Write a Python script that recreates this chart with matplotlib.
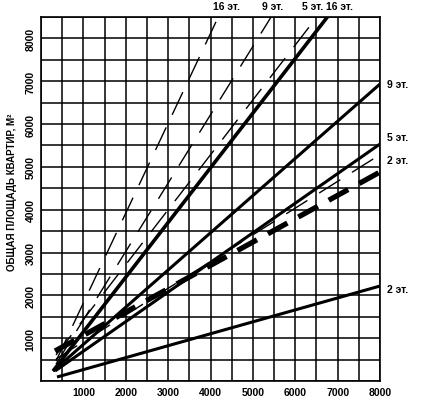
import matplotlib
matplotlib.use("Agg")
import matplotlib.pyplot as plt
from matplotlib.ticker import MultipleLocator

plt.rcParams['font.family'] = ['Liberation Sans', 'DejaVu Sans']
plt.rcParams['lines.scale_dashes'] = False

# Линии графика: (x начала, x конца), (y начала, y конца)
# тонкие штриховые
dash16_x = [354, 4183]
dash16_y = [467, 8500]
dash9_x = [354, 5430]
dash9_y = [397, 8500]
dash5_x = [354, 6510]
dash5_y = [607, 8500]
dash2_x = [354, 7950]
dash2_y = [514, 5254]
# сплошные
solid16_x = [284, 6758]
solid16_y = [233, 8500]
solid9_x = [284, 8000]
solid9_y = [233, 6935]
solid5_x = [331, 8000]
solid5_y = [233, 5534]
solid2_x = [378, 8000]
solid2_y = [93, 2218]
# жирная штриховая
bold_x = [331, 8000]
bold_y = [700, 4880]

x_ticks = [1000, 2000, 3000, 4000, 5000, 6000, 7000, 8000]
y_ticks = [1000, 2000, 3000, 4000, 5000, 6000, 7000, 8000]

top_labels = ['16 эт.', '9 эт.', '5 эт.', '16 эт.']
top_label_x = [4372, 5459, 6404, 7042]
right_labels = ['9 эт.', '5 эт.', '2 эт.', '2 эт.']
right_label_y = [6935, 5700, 5160, 2150]

fig = plt.figure(figsize=(4.23, 4.06), dpi=100)
ax = fig.add_axes([41 / 423, 24 / 406, 339 / 423, 364 / 406])

ax.set_xlim(0, 8000)
ax.set_ylim(0, 8500)
ax.xaxis.set_minor_locator(MultipleLocator(500))
ax.yaxis.set_minor_locator(MultipleLocator(500))
ax.set_xticks(x_ticks)
ax.set_yticks(y_ticks)
ax.grid(True, which='both', color='black', linewidth=1.1)
ax.set_axisbelow(True)
for s in ax.spines.values():
    s.set_linewidth(1.2)

thin = dict(color='black', linewidth=1.0, dashes=(18, 10))
ax.plot(dash16_x, dash16_y, **thin)
ax.plot(dash9_x, dash9_y, **thin)
ax.plot(dash5_x, dash5_y, **thin)
ax.plot(dash2_x, dash2_y, **thin)

ax.plot(solid16_x, solid16_y, color='black', linewidth=2.6, solid_capstyle='butt')
ax.plot(solid9_x, solid9_y, color='black', linewidth=2.2, solid_capstyle='butt')
ax.plot(solid5_x, solid5_y, color='black', linewidth=2.2, solid_capstyle='butt')
ax.plot(solid2_x, solid2_y, color='black', linewidth=2.2, solid_capstyle='butt')

ax.plot(bold_x, bold_y, color='black', linewidth=3.8, dashes=(16, 9))

ax.tick_params(which='both', length=0)
ax.tick_params(axis='x', pad=4.5, labelsize=7.5)
ax.tick_params(axis='y', pad=4, labelsize=7.5, labelrotation=90)
for lab in ax.get_xticklabels() + ax.get_yticklabels():
    lab.set_fontweight('bold')
for lab in ax.get_yticklabels():
    lab.set_va('center')

ax.set_ylabel('ОБЩАЯ ПЛОЩАДЬ КВАРТИР, М²', fontsize=7, fontweight='bold', va='center')
ax.yaxis.set_label_coords(-0.086, 0.52)

top_y = 8500 + 11 / 364 * 8500
for lab, x in zip(top_labels, top_label_x):
    ax.text(x, top_y, lab, fontsize=7.5, fontweight='bold', ha='center', va='center',
            clip_on=False)

for lab, y in zip(right_labels, right_label_y):
    ax.text(8000 + 7 / 339 * 8000, y, lab, fontsize=7.5, fontweight='bold', ha='left', va='center',
            clip_on=False)

fig.savefig('out.png', dpi=100, facecolor='white')
